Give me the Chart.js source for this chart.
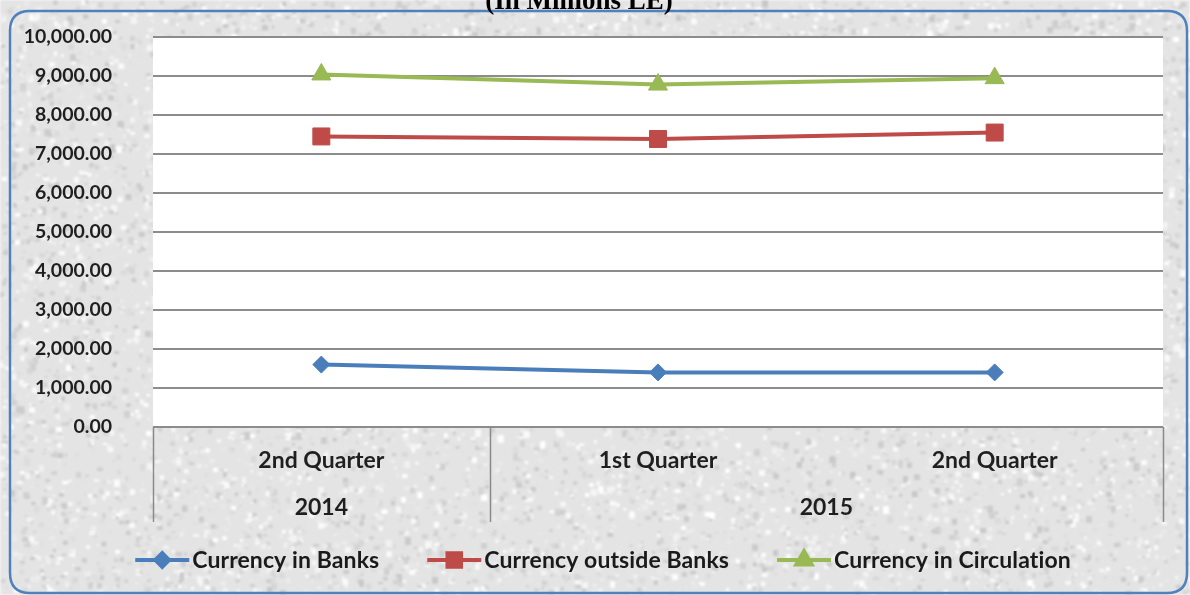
<!DOCTYPE html>
<html lang="en">
<head>
    <meta charset="UTF-8">
    <title>Currency in Circulation</title>
    <script src="https://cdn.jsdelivr.net/npm/chart.js"></script>
    <style>
        html, body { margin: 0; padding: 0; background: #fff; }
        canvas { display: block; }
    </style>
</head>
<body>
    <canvas id="currency-chart" width="1190" height="595"></canvas>

    <script>
        // quarters on the axis, and the years that group them
        const quarters = ['2nd Quarter', '1st Quarter', '2nd Quarter'];
        const years = ['2014', '2015'];
        const yearSpans = [1, 2];

        // values in millions
        const currencyInBanks = [1600, 1400, 1400];
        const currencyOutsideBanks = [7450, 7385, 7550];
        const currencyInCirculation = [9040, 8780, 8945];

        const yTicks = [0, 1000, 2000, 3000, 4000, 5000, 6000, 7000, 8000, 9000, 10000];

        const titleText = '(In Millions LE)';
        const fontName = 'Lato, "Open Sans", sans-serif';

        // soft mottled stone background, drawn once
        function makeTexture(w, h) {
            const c = document.createElement('canvas');
            c.width = w; c.height = h;
            const g = c.getContext('2d');
            g.fillStyle = '#e4e4e4';
            g.fillRect(0, 0, w, h);
            let seed = 12345;
            const rnd = () => { seed = (seed * 1103515245 + 12345) % 2147483648; return seed / 2147483648; };
            for (let i = 0; i < 70000; i++) {
                const x = rnd() * w, y = rnd() * h;
                const s = 1.5 + rnd() * 4;
                const v = Math.round(200 + rnd() * 55);
                g.fillStyle = `rgb(${v},${v},${v})`;
                g.fillRect(x, y, s, s * (0.4 + rnd()));
            }
            const out = document.createElement('canvas');
            out.width = w; out.height = h;
            const o = out.getContext('2d');
            o.filter = 'blur(1.1px)';
            o.drawImage(c, 0, 0);
            return out;
        }
        const texture = makeTexture(1190, 595);

        function roundRect(ctx, x, y, w, h, r) {
            ctx.beginPath();
            ctx.moveTo(x + r, y);
            ctx.lineTo(x + w - r, y);
            ctx.quadraticCurveTo(x + w, y, x + w, y + r);
            ctx.lineTo(x + w, y + h - r);
            ctx.quadraticCurveTo(x + w, y + h, x + w - r, y + h);
            ctx.lineTo(x + r, y + h);
            ctx.quadraticCurveTo(x, y + h, x, y + h - r);
            ctx.lineTo(x, y + r);
            ctx.quadraticCurveTo(x, y, x + r, y);
            ctx.closePath();
        }

        const frame = {
            id: 'frame',
            beforeDraw(chart) {
                const ctx = chart.ctx;
                const a = chart.chartArea;
                ctx.save();
                ctx.drawImage(texture, 0, 0);
                ctx.fillStyle = '#ffffff';
                ctx.fillRect(a.left, a.top, a.right - a.left, a.bottom - a.top);
                ctx.restore();
            },
            afterDraw(chart) {
                const ctx = chart.ctx;
                const a = chart.chartArea;
                const x = chart.scales.x;
                ctx.save();

                // group boxes under the quarter labels
                const step = x.getPixelForValue(1) - x.getPixelForValue(0);
                const boxBottom = 522;
                ctx.strokeStyle = '#8a8a8a';
                ctx.lineWidth = 1.5;
                let idx = 0;
                const edges = [a.left];
                years.forEach((yr, i) => {
                    const start = x.getPixelForValue(idx) - step / 2;
                    idx += yearSpans[i];
                    const end = x.getPixelForValue(idx - 1) + step / 2;
                    edges.push(end);
                    ctx.fillStyle = '#1f1f1f';
                    ctx.font = 'bold 23px ' + fontName;
                    ctx.textAlign = 'center';
                    ctx.textBaseline = 'middle';
                    ctx.fillText(yr, (start + end) / 2, 508);
                });
                edges.forEach(ex => {
                    ctx.beginPath();
                    ctx.moveTo(Math.round(ex) + 0.5, a.bottom);
                    ctx.lineTo(Math.round(ex) + 0.5, boxBottom);
                    ctx.stroke();
                });

                // legend: line with marker, then the series name
                ctx.font = 'bold 23px ' + fontName;
                ctx.letterSpacing = '0.1px';   // keeps "ti" from joining
                const sets = chart.data.datasets;
                const lineLen = 54, gapText = 3, gapItem = 48;
                const widths = sets.map(d => lineLen + gapText + ctx.measureText(d.label).width);
                const total = widths.reduce((s, w) => s + w, 0) + gapItem * (sets.length - 1);
                let lx = 603 - total / 2;
                const ly = 560;
                sets.forEach((d, i) => {
                    ctx.strokeStyle = d.borderColor;
                    ctx.lineWidth = 4;
                    ctx.beginPath();
                    ctx.moveTo(lx, ly);
                    ctx.lineTo(lx + lineLen, ly);
                    ctx.stroke();
                    Chart.helpers.drawPoint(ctx, {
                        pointStyle: d.pointStyle,
                        radius: d.pointRadius * 0.8,
                        rotation: 0,
                        borderWidth: 1
                    }, lx + lineLen / 2, ly);
                    ctx.fillStyle = d.borderColor;
                    ctx.fill();
                    ctx.fillStyle = '#1a1a1a';
                    ctx.textAlign = 'left';
                    ctx.textBaseline = 'middle';
                    ctx.fillText(d.label, lx + lineLen + gapText, ly + 1);
                    lx += widths[i] + gapItem;
                });
                ctx.letterSpacing = '0px';

                // rounded outer border
                ctx.strokeStyle = '#4f81bd';
                ctx.lineWidth = 2.5;
                roundRect(ctx, 10, 11, 1177, 582, 20);
                ctx.stroke();

                // heading, partly above the top edge
                ctx.fillStyle = '#000';
                ctx.font = 'bold 27px "Liberation Serif", "DejaVu Serif", serif';
                ctx.textAlign = 'center';
                ctx.textBaseline = 'alphabetic';
                ctx.fillText(titleText, 579, 9);
                ctx.restore();
            }
        };

        const series = [
            { label: 'Currency in Banks', data: currencyInBanks, color: '#4a7ebb', style: 'rectRot', r: 8.5 },
            { label: 'Currency outside Banks', data: currencyOutsideBanks, color: '#be4b48', style: 'rect', r: 12 },
            { label: 'Currency in Circulation', data: currencyInCirculation, color: '#98b954', style: 'triangle', r: 11 }
        ];

        new Chart(document.getElementById('currency-chart'), {
            type: 'line',
            data: {
                labels: quarters,
                datasets: series.map(s => ({
                    label: s.label,
                    data: s.data,
                    borderColor: s.color,
                    backgroundColor: s.color,
                    pointBackgroundColor: s.color,
                    pointBorderColor: s.color,
                    pointStyle: s.style,
                    pointRadius: s.r,
                    pointBorderWidth: 1,
                    borderWidth: 4,
                    tension: 0,
                    fill: false
                }))
            },
            options: {
                responsive: false,
                animation: false,
                devicePixelRatio: 1,
                layout: { padding: { left: 23, top: 37, right: 27, bottom: 0 } },
                plugins: {
                    legend: { display: false },
                    tooltip: { enabled: false },
                    title: { display: false }
                },
                scales: {
                    x: {
                        offset: true,
                        grid: { display: false, drawTicks: false },
                        border: { display: false },
                        ticks: {
                            color: '#1f1f1f',
                            font: { family: fontName, size: 23, weight: 'bold' },
                            padding: 20,
                            maxRotation: 0
                        },
                        afterFit(scale) { scale.height = 595 - 427; }
                    },
                    y: {
                        min: yTicks[0],
                        max: yTicks[yTicks.length - 1],
                        afterBuildTicks(scale) { scale.ticks = yTicks.map(v => ({ value: v })); },
                        grid: { color: '#8c8c8c', lineWidth: 2, drawTicks: false },
                        border: { display: false },
                        ticks: {
                            color: '#1f1f1f',
                            font: { family: fontName, size: 19.5, weight: 'bold' },
                            padding: 41,
                            callback: v => v.toLocaleString('en-US', { minimumFractionDigits: 2, maximumFractionDigits: 2 })
                        },
                        afterFit(scale) {
                            // the wide label gap should not push the plot down
                            scale.width = 130;
                            scale.paddingTop = 12;
                            scale.paddingBottom = 12;
                        }
                    }
                }
            },
            plugins: [frame]
        });
    </script>
</body>
</html>
